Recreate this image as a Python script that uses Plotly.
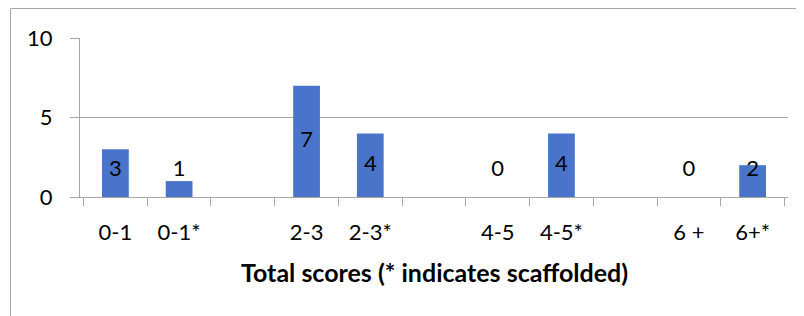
import plotly.graph_objects as go

categories = ["0-1", "0-1*", "", "2-3", "2-3*", "", "4-5", "4-5*", "", "6 +", "6+*"]
values = [3, 1, None, 7, 4, None, 0, 4, None, 0, 2]
x_title = "Total scores (* indicates scaffolded)"
y_ticks = [0, 5, 10]

# unique category keys (blank slots need distinct keys)
keys = [f"c{i}" for i in range(len(categories))]

FONT = "Lato"
GRAY = "#a6a6a6"
FS = 22

label_x = [k for k, v in zip(keys, values) if v is not None]
label_v = [v for v in values if v is not None]
label_y = [max(v / 2, 1.65) for v in label_v]

fig = go.Figure()
fig.add_trace(go.Bar(
    x=keys, y=values,
    marker=dict(color="#4a74c9", line=dict(width=0)),
    hoverinfo="skip",
))
fig.add_trace(go.Scatter(
    x=label_x, y=label_y, mode="text",
    text=[str(v) for v in label_v],
    textfont=dict(family=FONT, size=FS, color="#000000"),
    textposition="middle center",
    hoverinfo="skip",
    cliponaxis=False,
))

# page body has an 8px margin, so the figure is 8px smaller on each side
W, H = 796, 308
L, R, T, B = 72, 16, 30, 119
pw = W - L - R
ph = H - T - B

fig.update_layout(
    width=W, height=H,
    margin=dict(l=L, r=R, t=T, b=B, autoexpand=False),
    paper_bgcolor="white", plot_bgcolor="white",
    showlegend=False,
    bargap=0.58,
    font=dict(family=FONT, size=FS, color="#000000"),
    xaxis=dict(
        type="category", automargin=False,
        tickmode="array", tickvals=keys, ticktext=categories,
        tickson="boundaries",
        ticks="outside", ticklen=8, tickcolor=GRAY, tickwidth=1,
        showline=True, linecolor=GRAY, linewidth=1,
        showgrid=False,
        ticklabelstandoff=16,
        tickfont=dict(family=FONT, size=FS, color="#000000"),
    ),
    yaxis=dict(
        range=[0, 10], tickvals=y_ticks, automargin=False,
        ticks="outside", ticklen=9, tickcolor=GRAY, tickwidth=1,
        showline=True, linecolor=GRAY, linewidth=1,
        showgrid=True, gridcolor=GRAY, gridwidth=1,
        zeroline=False,
        ticklabelstandoff=13,
        tickfont=dict(family=FONT, size=FS, color="#000000"),
    ),
    annotations=[dict(
        text=f"<b>{x_title}</b>", xref="paper", yref="paper",
        x=0.5, y=0, yshift=-75, xanchor="center", yanchor="middle",
        showarrow=False, font=dict(family=FONT, size=25, color="#000000"),
    )],
    shapes=[dict(
        type="rect", xref="paper", yref="paper",
        x0=(2.5 - L) / pw, x1=(W + 20 - L) / pw,
        y0=-(H + 20 - T - ph) / ph, y1=1 + (T - 0.5) / ph,
        line=dict(color=GRAY, width=1), fillcolor="rgba(0,0,0,0)",
        layer="below",
    )],
)

fig.write_html("out.html")
